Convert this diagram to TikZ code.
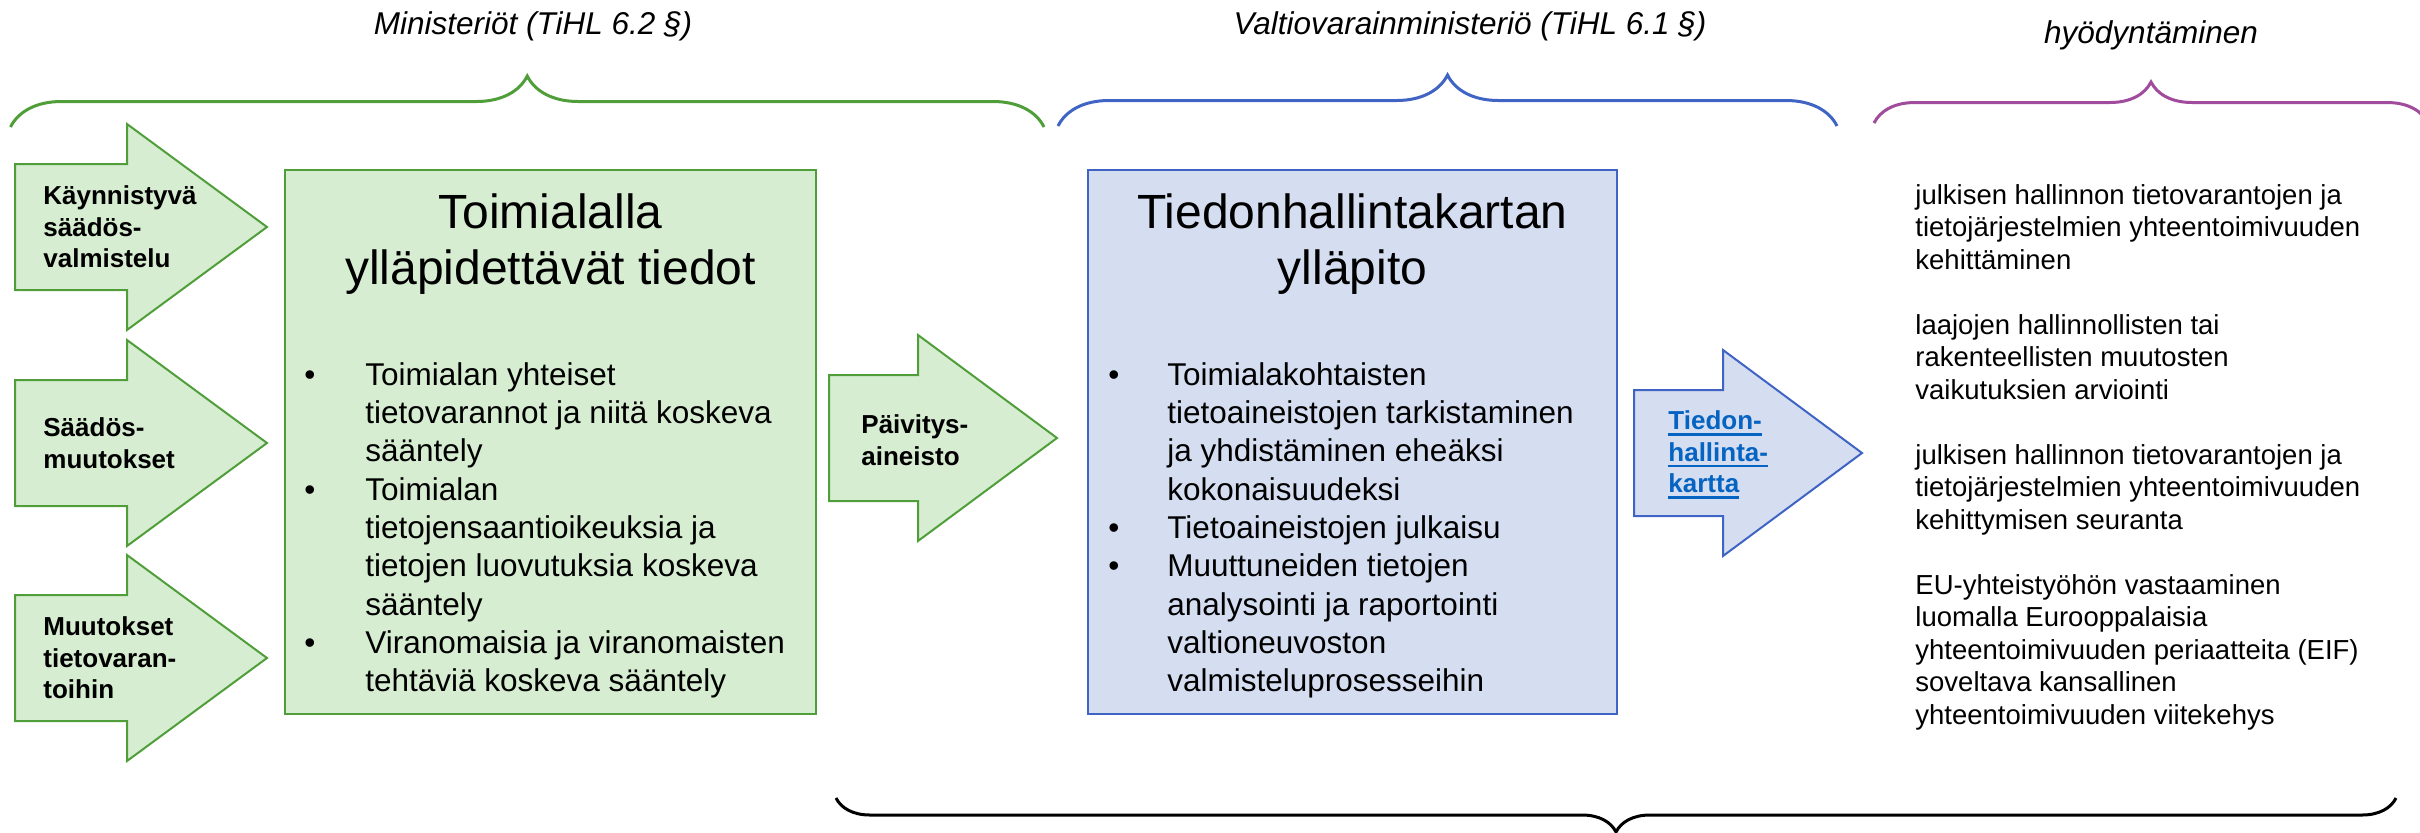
\documentclass[tikz,border=0pt]{standalone}
\usepackage{fontspec}
\setmainfont{Liberation Sans}
\usetikzlibrary{decorations.pathreplacing}
\newcommand{\linkline}[1]{\setbox0\hbox{#1}\rlap{\rule[-3pt]{\wd0}{1.3pt}}\box0}
\definecolor{vihrea}{RGB}{80,158,58}
\definecolor{vihreatausta}{RGB}{214,237,209}
\definecolor{sininen}{RGB}{64,100,196}
\definecolor{sinitausta}{RGB}{213,221,241}
\definecolor{violetti}{RGB}{160,75,155}
\definecolor{linkki}{RGB}{5,99,193}
\tikzstyle{greenbox}=[rectangle,draw=vihrea,fill=vihreatausta,line width=1.25pt,inner sep=0pt]
\tikzstyle{bluebox}=[rectangle,draw=sininen,fill=sinitausta,line width=1.25pt,inner sep=0pt]
\tikzstyle{greenarrow}=[draw=vihrea,fill=vihreatausta,line width=1pt]
\tikzstyle{bluearrow}=[draw=sininen,fill=sinitausta,line width=1pt]
\tikzstyle{arrowlab}=[anchor=west,align=left,inner sep=0pt,font=\fontsize{13}{15.75}\selectfont\bfseries]
\tikzstyle{boxtitle}=[anchor=north,align=center,inner sep=0pt,font=\fontsize{24}{28.25}\selectfont]
\tikzstyle{bulletlist}=[anchor=north west,inner sep=0pt,font=\fontsize{15.75}{19.15}\selectfont]
\tikzstyle{headlab}=[inner sep=0pt,font=\fontsize{15.75}{19}\selectfont\itshape]
\tikzstyle{usetext}=[anchor=north west,align=left,inner sep=0pt,font=\fontsize{13.75}{16.25}\selectfont]
\tikzstyle{curly}=[decorate,line width=1.5pt]

\begin{document}
\begin{tikzpicture}[x=0.5pt,y=-0.5pt]
	\useasboundingbox (0,0) rectangle (2420,832);
	\def \hh {103};
	\def \sh {63};
	\def \rowa {227};
	\def \rowb {443};
	\def \rowc {658};
	\def \pmid {438};
	\def \kmid {453};
	
	\node[headlab] (minlab) at (533,26) {Ministeriöt (TiHL 6.2 §)};
	\node[headlab] (vmlab) at (1470,26) {Valtiovarainministeriö (TiHL 6.1 §)};
	\node[headlab] (hyolab) at (2151,35) {hyödyntäminen};
	
	\draw[curly,draw=vihrea,decoration={brace,amplitude=25.5pt}] (10.5,127) -- (1044,127);
	\draw[curly,draw=sininen,decoration={brace,amplitude=25.5pt}] (1058,126) -- (1837,126);
	\draw[curly,draw=violetti,decoration={brace,amplitude=20.5pt}] (1874,123) -- (2428,123);
	\draw[curly,draw=black,decoration={brace,amplitude=17pt}] (2396,798) -- (836,798);
	
	\draw[greenarrow] (15,\rowa-\sh) -- (127,\rowa-\sh) -- (127,\rowa-\hh) -- (267,\rowa) -- (127,\rowa+\hh) -- (127,\rowa+\sh) -- (15,\rowa+\sh) -- cycle;
	\draw[greenarrow] (15,\rowb-\sh) -- (127,\rowb-\sh) -- (127,\rowb-\hh) -- (267,\rowb) -- (127,\rowb+\hh) -- (127,\rowb+\sh) -- (15,\rowb+\sh) -- cycle;
	\draw[greenarrow] (15,\rowc-\sh) -- (127,\rowc-\sh) -- (127,\rowc-\hh) -- (267,\rowc) -- (127,\rowc+\hh) -- (127,\rowc+\sh) -- (15,\rowc+\sh) -- cycle;
	
	\node[arrowlab] (kay) at (43,\rowa) {Käynnistyvä\\säädös-\\valmistelu};
	\node[arrowlab] (saa) at (43,\rowb) {Säädös-\\muutokset};
	\node[arrowlab] (muu) at (43,\rowc) {Muutokset\\tietovaran-\\toihin};
	
	\node[greenbox,minimum width=265.5pt,minimum height=272pt] (toimiala) at (550.5,442) {};
	\node[boxtitle] (toimlab) at (550.5,193) {Toimialalla\\ylläpidettävät tiedot};
	\node[bulletlist] (toimlist) at (304,358) {\begin{tabular}{@{}p{30.5pt}@{}l@{}}
		\textbullet & Toimialan yhteiset\\
		& tietovarannot ja niitä koskeva\\
		& sääntely\\
		\textbullet & Toimialan\\
		& tietojensaantioikeuksia ja\\
		& tietojen luovutuksia koskeva\\
		& sääntely\\
		\textbullet & Viranomaisia ja viranomaisten\\
		& tehtäviä koskeva sääntely
	\end{tabular}};
	
	\draw[greenarrow] (829,\pmid-\sh) -- (918,\pmid-\sh) -- (918,\pmid-\hh) -- (1057,\pmid) -- (918,\pmid+\hh) -- (918,\pmid+\sh) -- (829,\pmid+\sh) -- cycle;
	\node[arrowlab] (paiv) at (861,\pmid+2) {Päivitys-\\aineisto};
	
	\node[bluebox,minimum width=264.5pt,minimum height=272pt] (kartta) at (1352.5,442) {};
	\node[boxtitle] (karttalab) at (1352.5,193) {Tiedonhallintakartan\\ylläpito};
	\node[bulletlist] (karttalist) at (1108,358) {\begin{tabular}{@{}p{29.5pt}@{}l@{}}
		\textbullet & Toimialakohtaisten\\
		& tietoaineistojen tarkistaminen\\
		& ja yhdistäminen eheäksi\\
		& kokonaisuudeksi\\
		\textbullet & Tietoaineistojen julkaisu\\
		\textbullet & Muuttuneiden tietojen\\
		& analysointi ja raportointi\\
		& valtioneuvoston\\
		& valmisteluprosesseihin
	\end{tabular}};
	
	\draw[bluearrow] (1634,\kmid-\sh) -- (1723,\kmid-\sh) -- (1723,\kmid-\hh) -- (1862,\kmid) -- (1723,\kmid+\hh) -- (1723,\kmid+\sh) -- (1634,\kmid+\sh) -- cycle;
	\node[arrowlab,text=linkki] (thk) at (1668,\kmid+2) {\linkline{Tiedon-}\\\linkline{hallinta-}\\\linkline{kartta}};
	
	\node[usetext] (hyo) at (1915,184) {julkisen hallinnon tietovarantojen ja\\tietojärjestelmien yhteentoimivuuden\\kehittäminen\\[16.25pt]
		laajojen hallinnollisten tai\\rakenteellisten muutosten\\vaikutuksien arviointi\\[16.25pt]
		julkisen hallinnon tietovarantojen ja\\tietojärjestelmien yhteentoimivuuden\\kehittymisen seuranta\\[16.25pt]
		EU-yhteistyöhön vastaaminen\\luomalla Eurooppalaisia\\yhteentoimivuuden periaatteita (EIF)\\soveltava kansallinen\\yhteentoimivuuden viitekehys};
\end{tikzpicture}
\end{document}
